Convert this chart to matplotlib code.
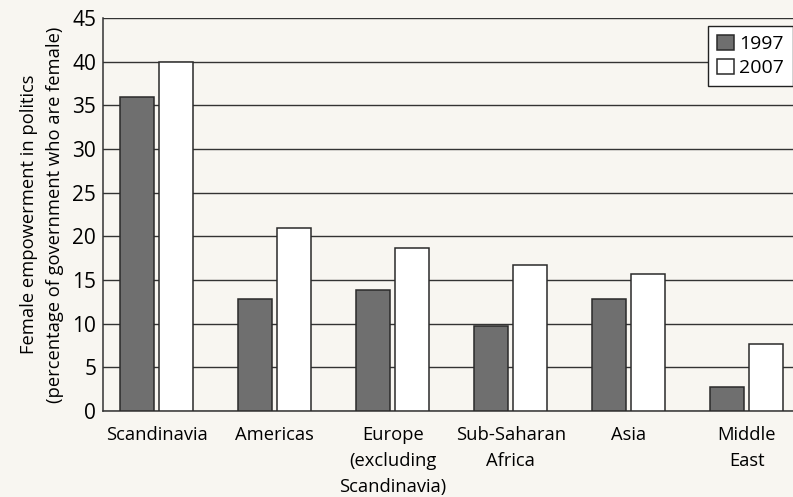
import numpy as np
from matplotlib import pyplot as plt

# regions and values
regions = ["Scandinavia", "Americas", "Europe\n(excluding\nScandinavia)",
           "Sub-Saharan\nAfrica", "Asia", "Middle\nEast"]
y1997 = [36, 12.8, 13.9, 9.7, 12.8, 2.7]
y2007 = [40, 21, 18.7, 16.7, 15.7, 7.7]

plt.rcParams['font.family'] = ['Open Sans', 'DejaVu Sans']

bg = "#f8f6f1"
fig = plt.figure(figsize=(7.93, 4.97), dpi=100, facecolor=bg)
ax = fig.add_axes([0.13, 0.173, 0.87, 0.791], facecolor=bg)

x = np.arange(len(regions))
w = 0.288
off = 0.165
ax.bar(x - off, y1997, w, color="#6f6f6f", edgecolor="#2a2a2a", lw=1.1,
       label="1997", zorder=3)
ax.bar(x + off, y2007, w, color="white", edgecolor="#2a2a2a", lw=1.1,
       label="2007", zorder=3)

ax.set_ylim(0, 45)
ax.set_xlim(-0.453, 5.39)
ax.set_yticks(range(0, 46, 5))
ax.yaxis.grid(True, color="#333333", lw=1.0, zorder=0)
ax.set_xticks(x)
ax.set_xticklabels(regions, fontsize=13.2, linespacing=1.55)
ax.tick_params(axis="y", labelsize=15, length=0, pad=5)
ax.tick_params(axis="x", length=0, pad=11)
for s in ["top", "right"]:
    ax.spines[s].set_visible(False)
for s in ["left", "bottom"]:
    ax.spines[s].set_color("#333333")
    ax.spines[s].set_linewidth(1.1)

ax.set_ylabel("Female empowerment in politics\n(percentage of government who are female)",
              fontsize=13.2, linespacing=1.55, labelpad=6)

leg = ax.legend(loc="upper right", bbox_to_anchor=(1.0, 0.98), fontsize=14,
                fancybox=False, framealpha=1, edgecolor="#222222",
                handlelength=0.85, handleheight=0.85, handletextpad=0.3,
                borderpad=0.45, labelspacing=0.3, borderaxespad=0)
leg.get_frame().set_linewidth(1.0)

fig.savefig("out.png", dpi=100, facecolor=bg)
